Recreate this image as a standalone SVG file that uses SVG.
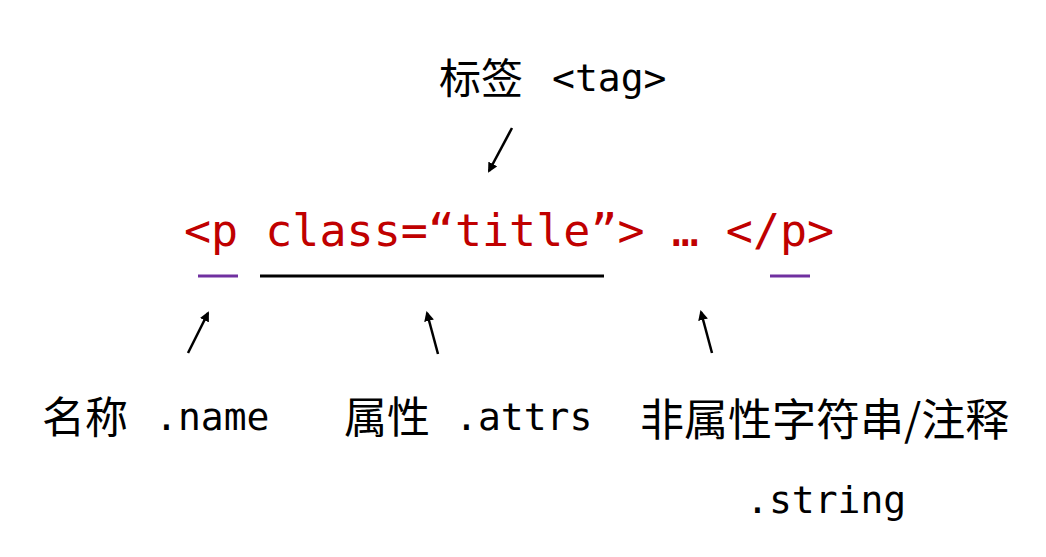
<svg xmlns="http://www.w3.org/2000/svg" width="1046" height="557" viewBox="0 0 1046 557">
<style>
.cjk{font-family:"Noto Sans CJK SC","Noto Sans",sans-serif;font-size:43px;fill:#000}
.mono{font-family:"DejaVu Sans Mono","Liberation Mono",monospace;font-size:38px;fill:#000}
.code{font-family:"DejaVu Sans Mono","Liberation Mono",monospace;font-size:45px;fill:#C00000}
.arr{stroke:#000;stroke-width:2.5;fill:none;marker-end:url(#ah)}
.ul{stroke-width:3}
</style>
<defs>
<marker id="ah" viewBox="0 0 10 10" refX="8" refY="5" markerWidth="4" markerHeight="4" orient="auto" markerUnits="strokeWidth">
<path d="M0,0 L10,5 L0,10 z" fill="#000"/>
</marker>
</defs>
<rect width="1046" height="557" fill="#fff"/>
<g id="tag">
<text x="439" y="94" class="cjk" style="font-size:42px">标签</text>
<text x="552" y="91" class="mono">&lt;tag&gt;</text>
</g>
<g id="code">
<text x="184" y="246" class="code">&lt;p class=“title”&gt; … &lt;/p&gt;</text>
<line x1="198" y1="276" x2="238" y2="276" stroke="#7030A0" class="ul"/>
<line x1="260" y1="276" x2="604" y2="276" stroke="#000" class="ul"/>
<line x1="770" y1="276" x2="810" y2="276" stroke="#7030A0" class="ul"/>
</g>
<g id="name">
<text x="42" y="433" class="cjk">名称</text>
<text x="155" y="430" class="mono">.name</text>
</g>
<g id="attrs">
<text x="344" y="433" class="cjk">属性</text>
<text x="455" y="430" class="mono">.attrs</text>
</g>
<g id="string">
<text x="640" y="436" class="cjk" style="font-size:44px">非属性字符串/注释</text>
<text x="746" y="513" class="mono">.string</text>
</g>
<g id="connectors">
<line x1="512" y1="128" x2="489" y2="171" class="arr"/>
<line x1="188" y1="353" x2="208" y2="313" class="arr"/>
<line x1="438" y1="354" x2="427" y2="313" class="arr"/>
<line x1="712" y1="353" x2="701" y2="312" class="arr"/>
</g>
</svg>
